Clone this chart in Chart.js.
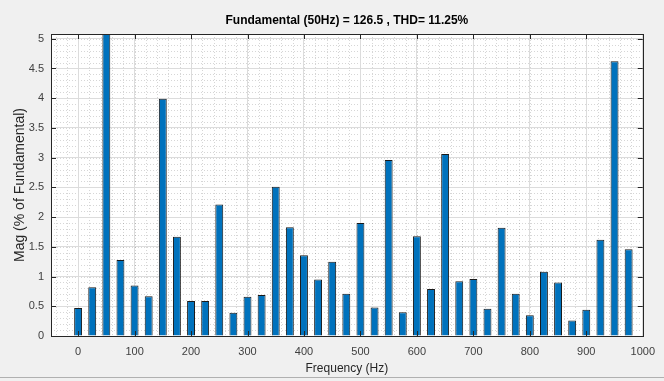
<!DOCTYPE html>
<html>
<head>
<meta charset="utf-8">
<script src="https://cdn.jsdelivr.net/npm/chart.js@4.4.1/dist/chart.umd.min.js"></script>
<style>
  html, body { margin: 0; padding: 0; background: #f0f0f0; }
  #wrap { width: 664px; height: 381px; position: relative; }
</style>
</head>
<body>
<div id="wrap"><canvas id="c" width="664" height="381"></canvas></div>
<script>
// Harmonic spectrum: frequency bins (Hz) and magnitude (% of fundamental)
const frequencies = [0, 25, 50, 75, 100, 125, 150, 175, 200, 225, 250, 275, 300, 325, 350, 375,
  400, 425, 450, 475, 500, 525, 550, 575, 600, 625, 650, 675, 700, 725, 750, 775,
  800, 825, 850, 875, 900, 925, 950, 975];
const magnitudes = [0.47, 0.82, 100, 1.28, 0.85, 0.67, 3.99, 1.67, 0.59, 0.59, 2.21, 0.39, 0.66, 0.69, 2.51, 1.83,
  1.36, 0.95, 1.25, 0.71, 1.90, 0.48, 2.96, 0.40, 1.68, 0.79, 3.06, 0.92, 0.96, 0.46, 1.82, 0.71,
  0.35, 1.08, 0.90, 0.26, 0.44, 1.62, 4.62, 1.46];
const xTickValues = [0, 100, 200, 300, 400, 500, 600, 700, 800, 900, 1000];
const yTickValues = [0, 0.5, 1, 1.5, 2, 2.5, 3, 3.5, 4, 4.5, 5];
const titleText = 'Fundamental (50Hz) = 126.5 , THD= 11.25%';
const xLabel = 'Frequency (Hz)';
const yLabel = 'Mag (% of Fundamental)';

const X_MIN = -48, X_MAX = 1000, Y_MIN = 0, Y_MAX = 5.08;
const X_MINOR = 20, Y_MINOR = 0.1;

// Figure background, white axes, dotted minor grid, box and inward tick marks
const axesDecor = {
  id: 'axesDecor',
  beforeDraw(chart) {
    const { ctx, chartArea: a, scales: { x, y } } = chart;
    ctx.save();
    ctx.fillStyle = '#f0f0f0';
    ctx.fillRect(0, 0, chart.width, chart.height);
    ctx.fillStyle = '#ffffff';
    ctx.fillRect(a.left, a.top, a.right - a.left, a.bottom - a.top);
    // minor grid
    ctx.strokeStyle = 'rgba(0,0,0,0.16)';
    ctx.lineWidth = 1;
    ctx.setLineDash([1, 2]);
    ctx.beginPath();
    for (let v = Math.ceil(X_MIN / X_MINOR) * X_MINOR; v <= X_MAX; v += X_MINOR) {
      const px = Math.round(x.getPixelForValue(v)) + 0.5;
      ctx.moveTo(px, a.top); ctx.lineTo(px, a.bottom);
    }
    for (let i = 0; i * Y_MINOR <= Y_MAX; i++) {
      const py = Math.round(y.getPixelForValue(i * Y_MINOR)) + 0.5;
      ctx.moveTo(a.left, py); ctx.lineTo(a.right, py);
    }
    ctx.stroke();
    ctx.setLineDash([]);
    // window edge near the bottom
    ctx.strokeStyle = '#b0b0b0';
    ctx.beginPath();
    ctx.moveTo(0, 377.5); ctx.lineTo(chart.width, 377.5);
    ctx.stroke();
    ctx.restore();
  },
  afterDraw(chart) {
    const { ctx, chartArea: a, scales: { x, y } } = chart;
    ctx.save();
    ctx.strokeStyle = '#262626';
    ctx.lineWidth = 1;
    ctx.beginPath();
    const L = 5;
    xTickValues.forEach(v => {
      const px = Math.round(x.getPixelForValue(v)) + 0.5;
      ctx.moveTo(px, a.bottom); ctx.lineTo(px, a.bottom - L);
      ctx.moveTo(px, a.top); ctx.lineTo(px, a.top + L);
    });
    yTickValues.forEach(v => {
      const py = Math.round(y.getPixelForValue(v)) + 0.5;
      ctx.moveTo(a.left, py); ctx.lineTo(a.left + L, py);
      ctx.moveTo(a.right, py); ctx.lineTo(a.right - L, py);
    });
    ctx.stroke();
    ctx.strokeRect(Math.round(a.left) + 0.5, Math.round(a.top) + 0.5,
      Math.round(a.right - a.left), Math.round(a.bottom - a.top));
    ctx.restore();
  }
};

const tickFont = { family: '"Liberation Sans", Arial, sans-serif', size: 11 };

new Chart(document.getElementById('c'), {
  type: 'bar',
  data: {
    datasets: [{
      data: frequencies.map((f, i) => ({ x: f, y: magnitudes[i] })),
      backgroundColor: '#0072BD',
      borderColor: '#1a1a1a',
      borderWidth: 1,
      barPercentage: 0.56,
      categoryPercentage: 1.0
    }]
  },
  options: {
    responsive: false,
    animation: false,
    layout: { padding: { left: 0, right: 16, top: 0, bottom: 0 } },
    plugins: {
      legend: { display: false },
      tooltip: { enabled: false },
      title: {
        display: true,
        text: titleText,
        fullSize: false,
        color: '#000000',
        font: { family: '"Liberation Sans", Arial, sans-serif', size: 12, weight: 'bold' },
        padding: { top: 13.8, bottom: 5.8 }
      }
    },
    scales: {
      x: {
        type: 'linear',
        min: X_MIN,
        max: X_MAX,
        offset: false,
        afterFit: s => { s.height = 45; },
        afterBuildTicks: s => { s.ticks = xTickValues.map(v => ({ value: v })); },
        border: { display: false },
        grid: { color: '#dcdcdc', drawTicks: false, lineWidth: 1, offset: false },
        ticks: {
          color: '#404040',
          padding: 9,
          maxRotation: 0,
          autoSkip: false,
          font: tickFont,
          callback: v => String(v)
        },
        title: {
          display: true,
          text: xLabel,
          color: '#262626',
          padding: { top: 0, bottom: 4.8 },
          font: { family: '"Liberation Sans", Arial, sans-serif', size: 12 }
        }
      },
      y: {
        type: 'linear',
        min: Y_MIN,
        max: Y_MAX,
        afterFit: s => { s.width = 51; },
        afterBuildTicks: s => { s.ticks = yTickValues.map(v => ({ value: v })); },
        border: { display: false },
        grid: { color: '#dcdcdc', drawTicks: false, lineWidth: 1 },
        ticks: {
          color: '#404040',
          padding: 7,
          autoSkip: false,
          font: tickFont,
          callback: v => String(v)
        },
        title: {
          display: true,
          text: yLabel,
          color: '#262626',
          padding: { top: 11.6, bottom: 0 },
          font: { family: '"Liberation Sans", Arial, sans-serif', size: 14 }
        }
      }
    }
  },
  plugins: [axesDecor]
});
</script>
</body>
</html>
